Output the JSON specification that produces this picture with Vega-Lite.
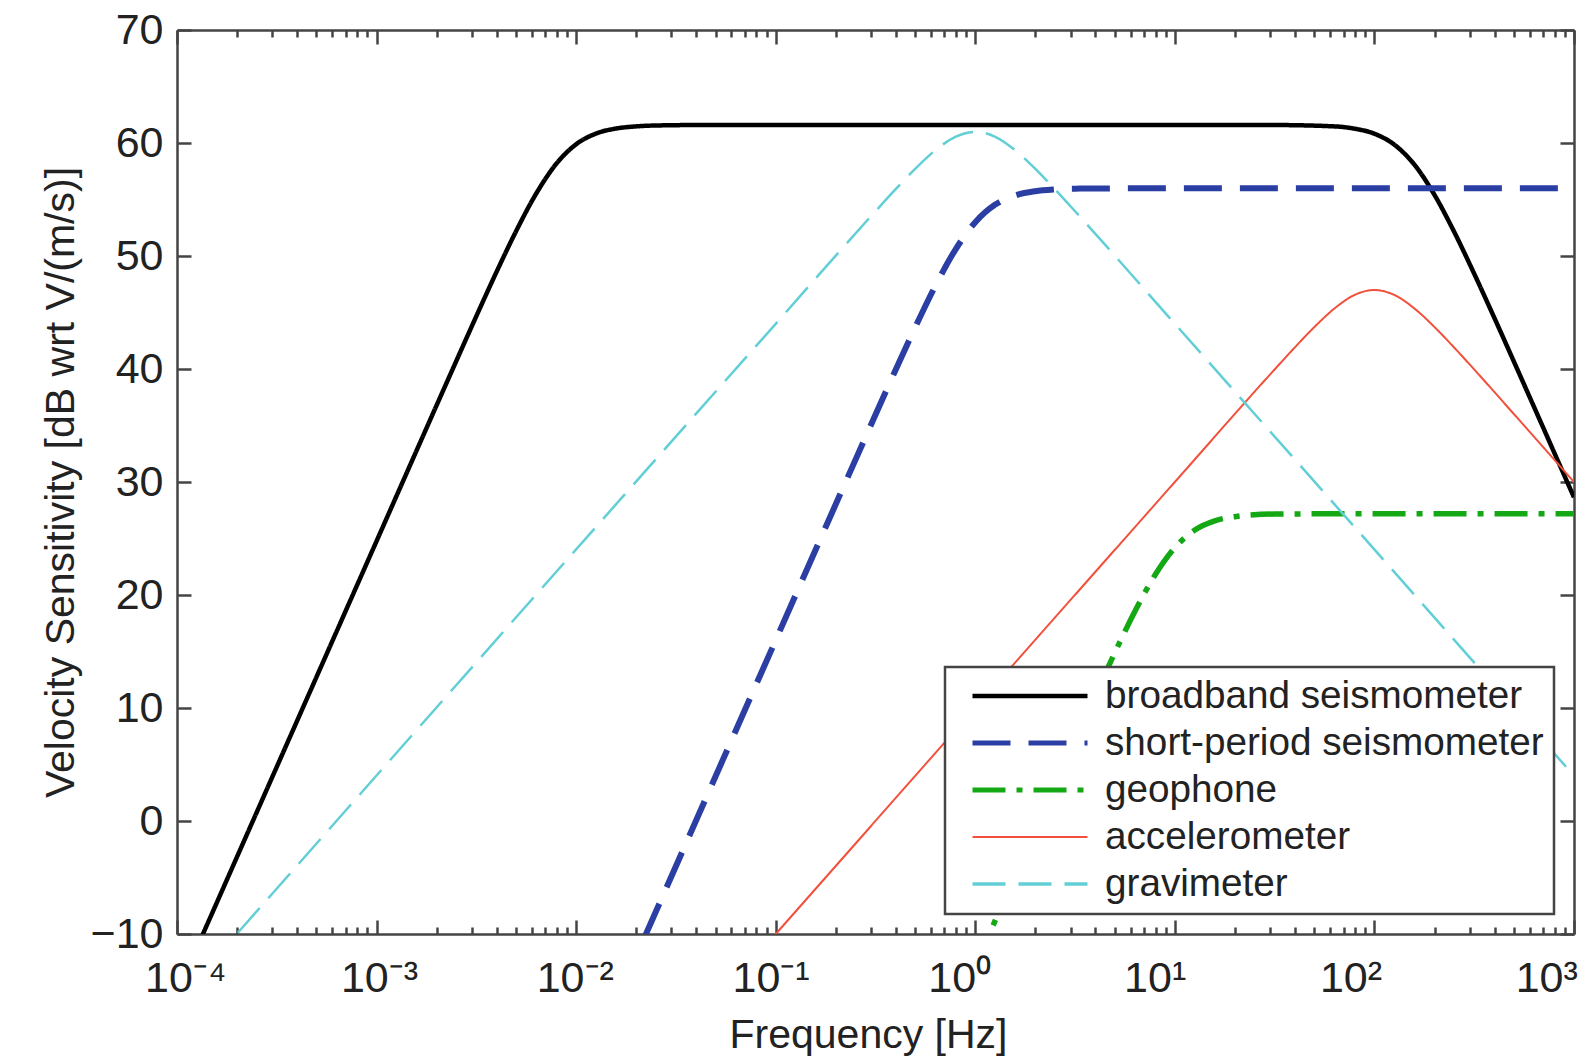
{
  "$schema": "https://vega.github.io/schema/vega-lite/v6.json",
  "width": 1397,
  "height": 904,
  "autosize": {"type": "none"},
  "padding": {"left": 177, "top": 30, "right": 19, "bottom": 124},
  "background": "white",
  "config": {
    "view": {"stroke": null},
    "font": "Liberation Sans",
    "axis": {
      "grid": false,
      "domainColor": "#444444",
      "domainWidth": 2.5,
      "tickColor": "#444444",
      "tickWidth": 2.5,
      "labelFont": "Liberation Sans",
      "labelFontSize": 43,
      "labelColor": "#222222",
      "titleFont": "Liberation Sans",
      "titleFontSize": 41,
      "titleFontWeight": "normal",
      "titleColor": "#222222"
    },
    "legend": {
      "orient": "none",
      "legendX": 768,
      "legendY": 637,
      "direction": "vertical",
      "symbolType": "stroke",
      "symbolSize": 13225,
      "symbolStrokeWidth": 4.5,
      "symbolOffset": 15,
      "clipHeight": 38,
      "labelFont": "Liberation Sans",
      "labelFontSize": 38.7,
      "labelColor": "#222222",
      "labelLimit": 700,
      "labelOffset": 15,
      "rowPadding": 8,
      "padding": 10,
      "strokeColor": "#444444",
      "strokeWidth": 2.5,
      "fillColor": "#ffffff",
      "cornerRadius": 0
    }
  },
  "data": {
    "values": [
      {"series": "broadband seismometer", "f": 0.0001, "v": -15.2},
      {"series": "broadband seismometer", "f": 0.001, "v": 24.77},
      {"series": "broadband seismometer", "f": 0.002512, "v": 40.73},
      {"series": "broadband seismometer", "f": 0.003162, "v": 44.68},
      {"series": "broadband seismometer", "f": 0.003981, "v": 48.55},
      {"series": "broadband seismometer", "f": 0.005012, "v": 52.23},
      {"series": "broadband seismometer", "f": 0.00631, "v": 55.53},
      {"series": "broadband seismometer", "f": 0.007943, "v": 58.15},
      {"series": "broadband seismometer", "f": 0.01, "v": 59.89},
      {"series": "broadband seismometer", "f": 0.01259, "v": 60.84},
      {"series": "broadband seismometer", "f": 0.01585, "v": 61.28},
      {"series": "broadband seismometer", "f": 0.01995, "v": 61.47},
      {"series": "broadband seismometer", "f": 0.02512, "v": 61.55},
      {"series": "broadband seismometer", "f": 0.05012, "v": 61.6},
      {"series": "broadband seismometer", "f": 1, "v": 61.6},
      {"series": "broadband seismometer", "f": 10, "v": 61.6},
      {"series": "broadband seismometer", "f": 31.62, "v": 61.59},
      {"series": "broadband seismometer", "f": 63.1, "v": 61.47},
      {"series": "broadband seismometer", "f": 79.43, "v": 61.27},
      {"series": "broadband seismometer", "f": 100, "v": 60.82},
      {"series": "broadband seismometer", "f": 125.9, "v": 59.85},
      {"series": "broadband seismometer", "f": 158.5, "v": 58.09},
      {"series": "broadband seismometer", "f": 199.5, "v": 55.44},
      {"series": "broadband seismometer", "f": 251.2, "v": 52.12},
      {"series": "broadband seismometer", "f": 316.2, "v": 48.43},
      {"series": "broadband seismometer", "f": 398.1, "v": 44.56},
      {"series": "broadband seismometer", "f": 501.2, "v": 40.61},
      {"series": "broadband seismometer", "f": 631, "v": 36.63},
      {"series": "broadband seismometer", "f": 1000, "v": 28.64},

      {"series": "short-period seismometer", "f": 0.01, "v": -24},
      {"series": "short-period seismometer", "f": 0.1, "v": 16.0},
      {"series": "short-period seismometer", "f": 0.2512, "v": 31.98},
      {"series": "short-period seismometer", "f": 0.3981, "v": 39.89},
      {"series": "short-period seismometer", "f": 0.5012, "v": 43.73},
      {"series": "short-period seismometer", "f": 0.631, "v": 47.36},
      {"series": "short-period seismometer", "f": 0.7943, "v": 50.55},
      {"series": "short-period seismometer", "f": 1, "v": 52.99},
      {"series": "short-period seismometer", "f": 1.259, "v": 54.55},
      {"series": "short-period seismometer", "f": 1.585, "v": 55.36},
      {"series": "short-period seismometer", "f": 1.995, "v": 55.73},
      {"series": "short-period seismometer", "f": 2.512, "v": 55.89},
      {"series": "short-period seismometer", "f": 3.162, "v": 55.96},
      {"series": "short-period seismometer", "f": 10, "v": 56},
      {"series": "short-period seismometer", "f": 1000, "v": 56},

      {"series": "geophone", "f": 1, "v": -12.8},
      {"series": "geophone", "f": 2.512, "v": 3.18},
      {"series": "geophone", "f": 3.981, "v": 11.09},
      {"series": "geophone", "f": 5.012, "v": 14.93},
      {"series": "geophone", "f": 6.31, "v": 18.56},
      {"series": "geophone", "f": 7.943, "v": 21.75},
      {"series": "geophone", "f": 10, "v": 24.19},
      {"series": "geophone", "f": 12.59, "v": 25.75},
      {"series": "geophone", "f": 15.85, "v": 26.56},
      {"series": "geophone", "f": 19.95, "v": 26.93},
      {"series": "geophone", "f": 31.62, "v": 27.16},
      {"series": "geophone", "f": 100, "v": 27.2},
      {"series": "geophone", "f": 1000, "v": 27.2},

      {"series": "accelerometer", "f": 0.0631, "v": -14},
      {"series": "accelerometer", "f": 0.1, "v": -10},
      {"series": "accelerometer", "f": 10, "v": 30},
      {"series": "accelerometer", "f": 31.62, "v": 39.96},
      {"series": "accelerometer", "f": 39.81, "v": 41.89},
      {"series": "accelerometer", "f": 50.12, "v": 43.73},
      {"series": "accelerometer", "f": 63.1, "v": 45.36},
      {"series": "accelerometer", "f": 79.43, "v": 46.55},
      {"series": "accelerometer", "f": 100, "v": 46.99},
      {"series": "accelerometer", "f": 125.9, "v": 46.55},
      {"series": "accelerometer", "f": 158.5, "v": 45.36},
      {"series": "accelerometer", "f": 199.5, "v": 43.73},
      {"series": "accelerometer", "f": 251.2, "v": 41.89},
      {"series": "accelerometer", "f": 316.2, "v": 39.96},
      {"series": "accelerometer", "f": 501.2, "v": 35.99},
      {"series": "accelerometer", "f": 1000, "v": 30.0},

      {"series": "gravimeter", "f": 0.0001, "v": -16},
      {"series": "gravimeter", "f": 0.1, "v": 44.0},
      {"series": "gravimeter", "f": 0.3162, "v": 53.96},
      {"series": "gravimeter", "f": 0.3981, "v": 55.89},
      {"series": "gravimeter", "f": 0.5012, "v": 57.73},
      {"series": "gravimeter", "f": 0.631, "v": 59.36},
      {"series": "gravimeter", "f": 0.7943, "v": 60.55},
      {"series": "gravimeter", "f": 1, "v": 60.99},
      {"series": "gravimeter", "f": 1.259, "v": 60.55},
      {"series": "gravimeter", "f": 1.585, "v": 59.36},
      {"series": "gravimeter", "f": 1.995, "v": 57.73},
      {"series": "gravimeter", "f": 2.512, "v": 55.89},
      {"series": "gravimeter", "f": 3.162, "v": 53.96},
      {"series": "gravimeter", "f": 10, "v": 44.0},
      {"series": "gravimeter", "f": 1000, "v": 4.0}
    ]
  },
  "layer": [
    {
      "mark": {"type": "line", "clip": true, "interpolate": "monotone"},
      "encoding": {
        "x": {
          "field": "f",
          "type": "quantitative",
          "scale": {"type": "log", "domain": [0.0001, 1000], "nice": false},
          "axis": {
            "orient": "bottom",
            "title": "Frequency [Hz]",
            "titleX": 691,
            "titlePadding": 8,
            "values": [0.0001,0.0002,0.0003,0.0004,0.0005,0.0006,0.0007,0.0008,0.0009,0.001,0.002,0.003,0.004,0.005,0.006,0.007,0.008,0.009,0.01,0.02,0.03,0.04,0.05,0.06,0.07,0.08,0.09,0.1,0.2,0.3,0.4,0.5,0.6,0.7,0.8,0.9,1,2,3,4,5,6,7,8,9,10,20,30,40,50,60,70,80,90,100,200,300,400,500,600,700,800,900,1000],
            "tickSize": {"condition": {"test": "abs(log(datum.value)/LN10 - round(log(datum.value)/LN10)) < 0.001", "value": -14}, "value": -7},
            "labelPadding": 37,
            "labelFlush": false,
            "labelOverlap": false,
            "labelAlign": "left",
            "labelOffset": {"expr": "-47.5 - 3.77*round(log(datum.value)/LN10)"},
            "labelExpr": "abs(log(datum.value)/LN10 - round(log(datum.value)/LN10)) < 0.001 ? ['10⁻⁴','10⁻³','10⁻²','10⁻¹','10⁰','10¹','10²','10³'][round(log(datum.value)/LN10)+4] : ''"
          }
        },
        "y": {
          "field": "v",
          "type": "quantitative",
          "scale": {"domain": [-10, 70], "nice": false, "zero": false},
          "axis": {
            "orient": "left",
            "title": "Velocity Sensitivity [dB wrt V/(m/s)]",
            "titlePadding": 8,
            "values": [-10, 0, 10, 20, 30, 40, 50, 60, 70],
            "tickSize": -14,
            "labelPadding": 28,
            "labelFlush": false,
            "labelOverlap": false
          }
        },
        "color": {
          "field": "series",
          "type": "nominal",
          "scale": {
            "domain": ["broadband seismometer", "short-period seismometer", "geophone", "accelerometer", "gravimeter"],
            "range": ["#000000", "#2b3ea3", "#14a814", "#f0503c", "#62cfd6"]
          },
          "legend": {
            "title": null,
            "symbolStrokeWidth": {"expr": "(datum.value === 'short-period seismometer' ? 5 : datum.value === 'geophone' ? 5 : datum.value === 'accelerometer' ? 2 : datum.value === 'gravimeter' ? 3.5 : 4.5)"},
            "encode": {"legend": {"strokeWidth": {"value": 2.5}}}
          }
        },
        "strokeDash": {
          "field": "series",
          "type": "nominal",
          "scale": {
            "domain": ["broadband seismometer", "short-period seismometer", "geophone", "accelerometer", "gravimeter"],
            "range": [[1, 0], [38, 18], [33, 11, 6, 11], [1, 0], [33, 13]]
          },
          "legend": {"title": null}
        },
        "strokeWidth": {
          "condition": [
            {"test": "datum.series === 'short-period seismometer'", "value": 6},
            {"test": "datum.series === 'geophone'", "value": 5.5},
            {"test": "datum.series === 'accelerometer'", "value": 2},
            {"test": "datum.series === 'gravimeter'", "value": 2.5}
          ],
          "value": 4.5
        }
      }
    },
    {
      "mark": {"type": "point", "opacity": 0},
      "encoding": {
        "x": {
          "field": "f",
          "type": "quantitative",
          "scale": {"type": "log", "domain": [0.0001, 1000], "nice": false},
          "axis": {
            "orient": "top",
            "title": null,
            "labels": false,
            "values": [0.0001,0.0002,0.0003,0.0004,0.0005,0.0006,0.0007,0.0008,0.0009,0.001,0.002,0.003,0.004,0.005,0.006,0.007,0.008,0.009,0.01,0.02,0.03,0.04,0.05,0.06,0.07,0.08,0.09,0.1,0.2,0.3,0.4,0.5,0.6,0.7,0.8,0.9,1,2,3,4,5,6,7,8,9,10,20,30,40,50,60,70,80,90,100,200,300,400,500,600,700,800,900,1000],
            "tickSize": {"condition": {"test": "abs(log(datum.value)/LN10 - round(log(datum.value)/LN10)) < 0.001", "value": -14}, "value": -7}
          }
        },
        "y": {
          "field": "v",
          "type": "quantitative",
          "scale": {"domain": [-10, 70], "nice": false, "zero": false},
          "axis": {
            "orient": "right",
            "title": null,
            "labels": false,
            "values": [-10, 0, 10, 20, 30, 40, 50, 60, 70],
            "tickSize": -14
          }
        }
      }
    }
  ],
  "resolve": {"axis": {"x": "independent", "y": "independent"}}
}
